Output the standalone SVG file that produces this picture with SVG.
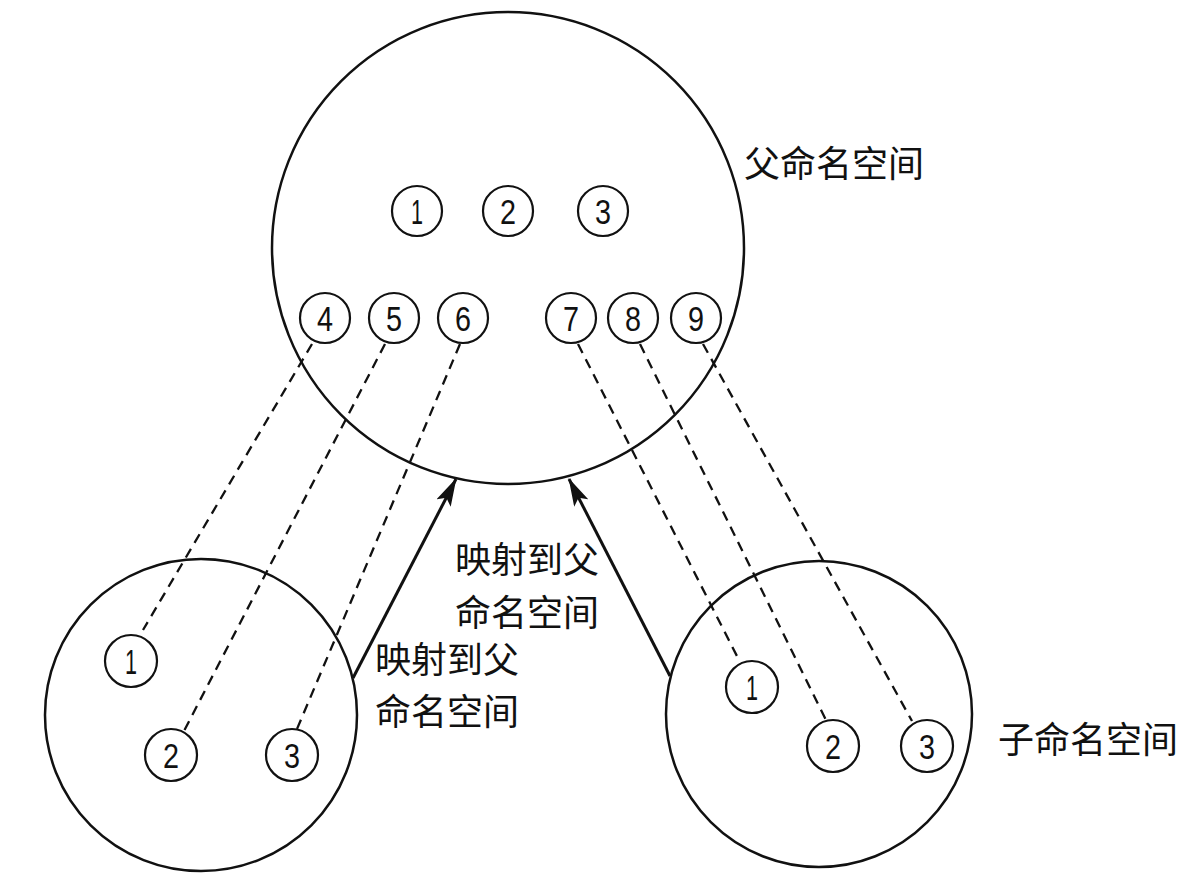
<svg xmlns="http://www.w3.org/2000/svg" width="1202" height="892" viewBox="0 0 1202 892">
<style>
.ring{fill:none;stroke:#111;stroke-width:2.5}
.dot{fill:#fff;stroke:#111;stroke-width:2.2}
.num{font-family:"Liberation Sans",Arial,sans-serif;font-size:35px;fill:#111;text-anchor:middle}
.cjk{font-family:"Noto Sans CJK SC","Noto Sans CJK TC",sans-serif;font-size:36px;fill:#111}
.dash{stroke:#111;stroke-width:2.3;stroke-dasharray:10 7;fill:none}
.arrow{stroke:#111;stroke-width:3;fill:none}
</style>
<defs>
<marker id="ah" viewBox="0 0 28 16" refX="27" refY="8" markerWidth="28" markerHeight="16" markerUnits="userSpaceOnUse" orient="auto">
<path d="M0,0 L28,8 L0,16 L6,8 Z" fill="#111"/>
</marker>
</defs>
<g id="connectors">
<line class="dash" x1="312" y1="344" x2="143" y2="630"/>
<line class="dash" x1="385" y1="344" x2="184" y2="731"/>
<line class="dash" x1="460" y1="344" x2="297" y2="729"/>
<line class="dash" x1="578" y1="344" x2="740" y2="662"/>
<line class="dash" x1="640" y1="344" x2="826" y2="720"/>
<line class="dash" x1="703" y1="344" x2="912" y2="721"/>
<line class="arrow" x1="353" y1="678" x2="456" y2="479" marker-end="url(#ah)"/>
<line class="arrow" x1="670" y1="676" x2="569" y2="479" marker-end="url(#ah)"/>
</g>
<g id="parent">
<circle class="ring" cx="508" cy="248" r="236"/>
<text class="cjk" x="744" y="177">父命名空间</text>
</g>
<g id="p1"><circle class="dot" cx="417" cy="211" r="25"/><text class="num" x="417" y="224" textLength="12" lengthAdjust="spacingAndGlyphs">1</text></g>
<g id="p2"><circle class="dot" cx="508" cy="211" r="25"/><text class="num" x="508" y="224" textLength="16" lengthAdjust="spacingAndGlyphs">2</text></g>
<g id="p3"><circle class="dot" cx="603" cy="211" r="25"/><text class="num" x="603" y="224" textLength="16" lengthAdjust="spacingAndGlyphs">3</text></g>
<g id="p4"><circle class="dot" cx="325" cy="318" r="25"/><text class="num" x="325" y="331" textLength="16" lengthAdjust="spacingAndGlyphs">4</text></g>
<g id="p5"><circle class="dot" cx="394" cy="318" r="25"/><text class="num" x="394" y="331" textLength="16" lengthAdjust="spacingAndGlyphs">5</text></g>
<g id="p6"><circle class="dot" cx="463" cy="318" r="25"/><text class="num" x="463" y="331" textLength="16" lengthAdjust="spacingAndGlyphs">6</text></g>
<g id="p7"><circle class="dot" cx="571" cy="318" r="25"/><text class="num" x="571" y="331" textLength="16" lengthAdjust="spacingAndGlyphs">7</text></g>
<g id="p8"><circle class="dot" cx="633" cy="318" r="25"/><text class="num" x="633" y="331" textLength="16" lengthAdjust="spacingAndGlyphs">8</text></g>
<g id="p9"><circle class="dot" cx="696" cy="318" r="25"/><text class="num" x="696" y="331" textLength="16" lengthAdjust="spacingAndGlyphs">9</text></g>
<g id="leftchild">
<circle class="ring" cx="201" cy="715" r="156"/>
</g>
<g id="l1"><circle class="dot" cx="131" cy="661" r="26"/><text class="num" x="131" y="674" textLength="12" lengthAdjust="spacingAndGlyphs">1</text></g>
<g id="l2"><circle class="dot" cx="171" cy="755" r="26"/><text class="num" x="171" y="768" textLength="16" lengthAdjust="spacingAndGlyphs">2</text></g>
<g id="l3"><circle class="dot" cx="292" cy="755" r="26"/><text class="num" x="292" y="768" textLength="16" lengthAdjust="spacingAndGlyphs">3</text></g>
<g id="rightchild">
<circle class="ring" cx="819" cy="714" r="153"/>
<text class="cjk" x="998" y="753">子命名空间</text>
</g>
<g id="r1"><circle class="dot" cx="752" cy="687" r="26"/><text class="num" x="752" y="700" textLength="12" lengthAdjust="spacingAndGlyphs">1</text></g>
<g id="r2"><circle class="dot" cx="833" cy="746" r="26"/><text class="num" x="833" y="759" textLength="16" lengthAdjust="spacingAndGlyphs">2</text></g>
<g id="r3"><circle class="dot" cx="927" cy="746" r="26"/><text class="num" x="927" y="759" textLength="16" lengthAdjust="spacingAndGlyphs">3</text></g>
<g id="label-left">
<text class="cjk" x="375" y="673">映射到父</text>
<text class="cjk" x="375" y="725">命名空间</text>
</g>
<g id="label-right">
<text class="cjk" x="455" y="573">映射到父</text>
<text class="cjk" x="455" y="626">命名空间</text>
</g>
</svg>
